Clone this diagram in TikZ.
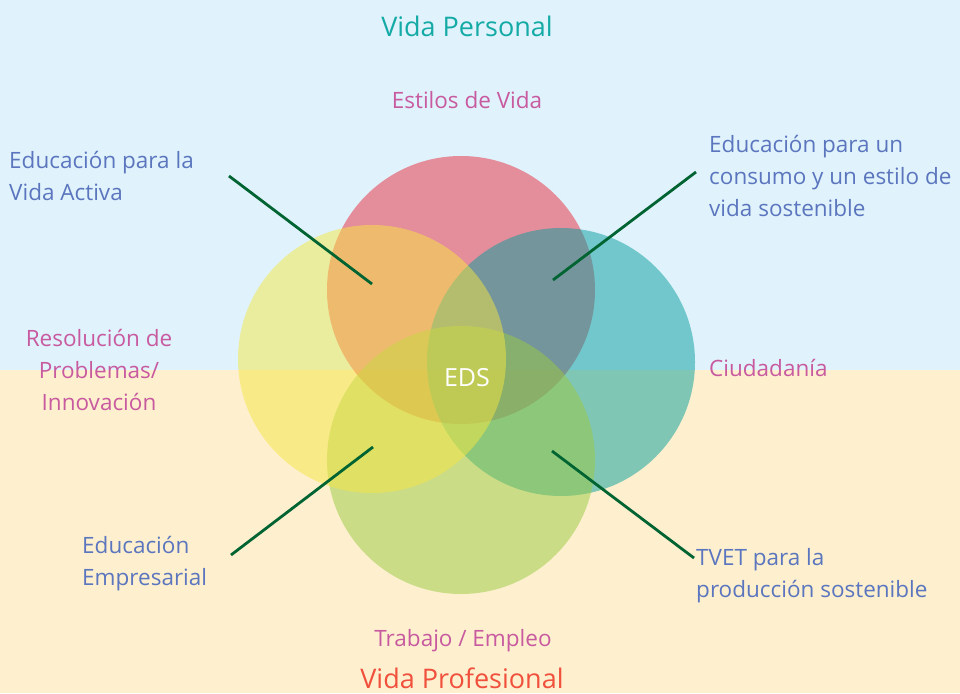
\documentclass[tikz,border=0pt]{standalone}
\usepackage{fontspec}
\setmainfont{Open Sans}
\usetikzlibrary{positioning}
\definecolor{bgblue}{RGB}{224,243,252}
\definecolor{bgsand}{RGB}{254,240,207}
\definecolor{cred}{RGB}{234,43,60}
\definecolor{cteal}{RGB}{4,157,156}
\definecolor{cgreen}{RGB}{154,202,65}
\definecolor{cyellow}{RGB}{245,230,66}
\definecolor{txtblue}{RGB}{91,118,190}
\definecolor{txtpink}{RGB}{200,90,160}
\definecolor{txtteal}{RGB}{20,170,165}
\definecolor{txtred}{RGB}{240,80,60}
\definecolor{linkgreen}{RGB}{0,100,50}

\begin{document}
\begin{tikzpicture}[x=1pt,y=-1pt,
  every node/.style={inner sep=0pt,font=\fontsize{22.5}{32}\selectfont},
  ring/.style={opacity=0.5},
  lbl/.style={txtblue,align=left,anchor=west},
  area/.style={txtpink,align=center},
  big/.style={font=\fontsize{27}{32}\selectfont},
  link/.style={linkgreen,line width=2.8pt}]
  \useasboundingbox (0,0) rectangle (960,693);
  \fill[bgblue](0,0) rectangle (960,370);
  \fill[bgsand](0,370) rectangle (960,693);
  % circles, bottom to top
  \fill[ring,cred](461,290) circle (134);
  \fill[ring,cteal](561,362) circle (134);
  \fill[ring,cgreen](461,460) circle (134);
  \fill[ring,cyellow](372,359) circle (134);
  \node[white,font=\fontsize{25}{30}\selectfont] (eds) at (467,378){EDS};
  % headings
  \node[big,txtteal] (personal) at (467,26){Vida Personal};
  \node[big,txtred] (profesional) at (462,678){Vida Profesional};
  \node[area] (estilos) at (467,100){Estilos de Vida};
  \node[area] (trabajo) at (463,641){Trabajo / Empleo};
  \node[area] (resol) at (99,370){Resolución de\\Problemas/\\Innovación};
  \node[area,anchor=west] (ciudad) at (709,368){Ciudadanía};
  % topics
  \node[lbl] (activa) at (9,176){Educación para la\\Vida Activa};
  \node[lbl] (consumo) at (709,176){Educación para un\\consumo y un estilo de\\vida sostenible};
  \node[lbl] (empresa) at (82,564){Educación\\Empresarial};
  \node[lbl] (tvet) at (696,576){TVET para la\\producción sostenible};
  % connectors
  \coordinate (a1) at (229,176);
  \coordinate (a2) at (372,284);
  \coordinate (c1) at (696,172);
  \coordinate (c2) at (553,280);
  \coordinate (e1) at (231,555);
  \coordinate (e2) at (373,447);
  \coordinate (t1) at (694,558);
  \coordinate (t2) at (552,451);
  \draw[link](a1)--(a2);
  \draw[link](c1)--(c2);
  \draw[link](e1)--(e2);
  \draw[link](t1)--(t2);
\end{tikzpicture}
\end{document}
